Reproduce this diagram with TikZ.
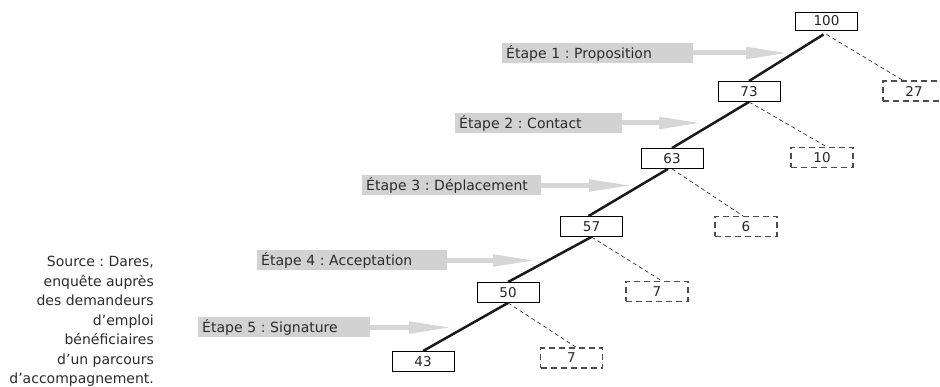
\documentclass[tikz,border=0pt]{standalone}
\usepackage{fontspec}
\setmainfont{DejaVu Sans}
\usetikzlibrary{arrows.meta}
\definecolor{stepgray}{HTML}{D2D2D2}
\definecolor{arrgray}{HTML}{D6D6D6}
\definecolor{txtgray}{HTML}{2B2B2B}
\frenchspacing
\begin{document}
\begin{tikzpicture}[x=1pt,y=-1pt,
  stepbox/.style={fill=stepgray, inner xsep=4pt, inner ysep=0pt, minimum height=20pt,
    anchor=west, align=left, text=txtgray, font=\fontsize{14}{16}\selectfont},
  steparrow/.style={draw=arrgray, line width=5pt, -{Triangle[length=44pt, width=11pt]}},
  numbox/.style={draw=black, line width=0.9pt, minimum width=62pt, minimum height=20pt,
    inner sep=0pt, font=\fontsize{13.5}{15}\selectfont, text=black!85},
  dashbox/.style={numbox, draw=black!70, line width=1.1pt, dash pattern=on 6pt off 4pt},
  mainline/.style={line width=2.5pt, black!90},
  sideline/.style={line width=0.7pt, black!80, dash pattern=on 4pt off 3pt},
  srcnode/.style={align=right, inner sep=0pt, text=txtgray, font=\fontsize{14}{19.5}\selectfont}
]
\useasboundingbox (0,0) rectangle (940,387);

% tree boxes
\node[numbox, minimum height=18pt] (n100) at (826.5,21) {100};
\node[numbox] (n73) at (749,91.5) {73};
\node[numbox] (n63) at (672,158.5) {63};
\node[numbox] (n57) at (591.5,226.5) {57};
\node[numbox] (n50) at (508,292.5) {50};
\node[numbox] (n43) at (423,361.5) {43};

\node[dashbox] (d27) at (914,91) {27};
\node[dashbox] (d10) at (822,157.5) {10};
\node[dashbox] (d6) at (746,226.5) {6};
\node[dashbox] (d7a) at (657,291.5) {7};
\node[dashbox] (d7b) at (571.5,358) {7};

% connectors
\draw[mainline] ([shift={(-3pt,-4pt)}]n100.south) -- (n73.north);
\draw[mainline] (n73.south) -- (n63.north);
\draw[mainline] ([xshift=-4pt]n63.south) -- ([xshift=-3pt]n57.north);
\draw[mainline] (n57.south) -- (n50.north);
\draw[mainline] (n50.south) -- (n43.north);

\draw[sideline] ([yshift=-4pt]n100.south) -- ([xshift=-11pt]d27.north);
\draw[sideline] (n73.south) -- ([xshift=5pt]d10.north);
\draw[sideline] (n63.south) -- ([xshift=-3pt]d6.north);
\draw[sideline] (n57.south) -- ([xshift=5pt]d7a.north);
\draw[sideline] (n50.south) -- ([xshift=5pt]d7b.north);

% step labels and arrows
\node[stepbox, text width=183pt] (s1) at (502,53) {Étape 1 : Proposition};
\node[stepbox, text width=159pt] (s2) at (455,123) {Étape 2 : Contact};
\node[stepbox, text width=171pt] (s3) at (362,185.5) {Étape 3 : Déplacement};
\node[stepbox, text width=182pt] (s4) at (257,260.5) {Étape 4 : Acceptation};
\node[stepbox, text width=164pt] (s5) at (198,327.5) {Étape 5 : Signature};

\coordinate (t1) at (790,53);
\coordinate (t2) at (703,123);
\coordinate (t3) at (633,185.5);
\coordinate (t4) at (537,260.5);
\coordinate (t5) at (453,327.5);

\draw[steparrow] (s1.east) -- (t1);
\draw[steparrow] (s2.east) -- (t2);
\draw[steparrow] (s3.east) -- (t3);
\draw[steparrow] (s4.east) -- (t4);
\draw[steparrow] (s5.east) -- (t5);

% source
\node[srcnode, anchor=north east] (src) at (154,256) {Source : Dares,\\enquête auprès\\des demandeurs\\d’emploi\\bénéficiaires\\d’un parcours\\d’accompagnement.};
\end{tikzpicture}
\end{document}
